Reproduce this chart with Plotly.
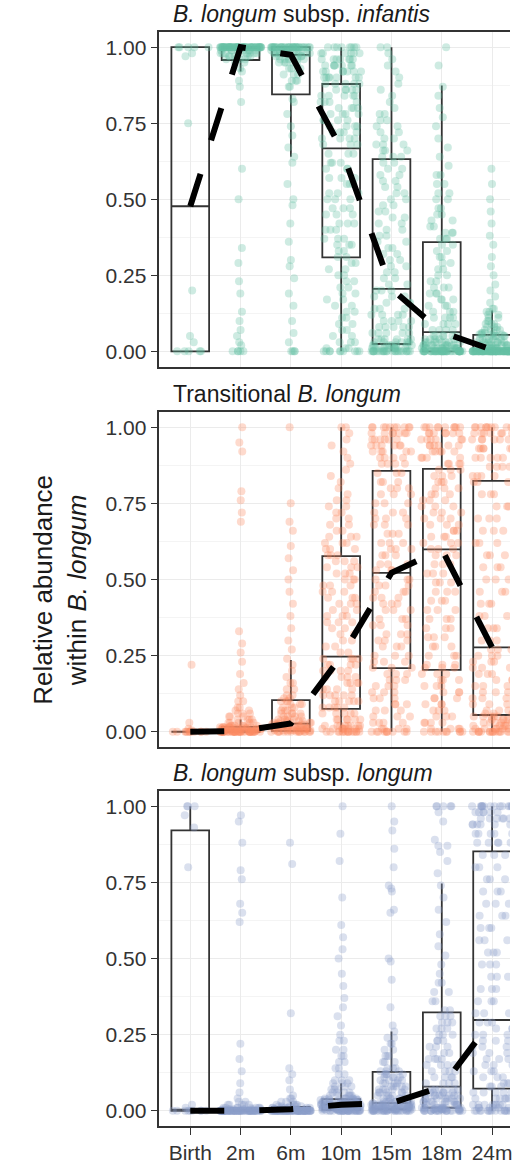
import plotly.graph_objects as go

# Sampling time points (category axis)
timepoints = ["Birth", "2m", "6m", "10m", "15m", "18m", "24m"]

# ---- Per-sample relative abundances, written as (value, number of samples) ----
infantis_birth = [(0.0, 5), (0.03, 1), (0.05, 1), (0.2, 1), (0.75, 1), (0.97, 1), (0.98, 1), (1.0, 5)]
infantis_2m = [(0.0, 5), (0.02, 1), (0.03, 1), (0.05, 1), (0.07, 1), (0.1, 1), (0.13, 1), (0.19, 1),
               (0.23, 1), (0.29, 1), (0.34, 1), (0.5, 1), (0.6, 1), (0.82, 1), (0.87, 1), (0.89, 1),
               (0.92, 1), (0.93, 1), (0.95, 2), (0.96, 4), (0.97, 6), (0.98, 8), (0.99, 8), (1.0, 60)]
infantis_6m = [(0.0, 4), (0.03, 1), (0.06, 1), (0.1, 1), (0.15, 1), (0.19, 1), (0.24, 1), (0.28, 1),
               (0.3, 1), (0.36, 1), (0.42, 1), (0.48, 1), (0.5, 1), (0.55, 1), (0.62, 1), (0.64, 1),
               (0.67, 1), (0.71, 1), (0.74, 1), (0.78, 1), (0.82, 1), (0.83, 1), (0.87, 2), (0.89, 3),
               (0.91, 3), (0.93, 4), (0.95, 5), (0.96, 5), (0.97, 6), (0.98, 8), (0.99, 10), (1.0, 35)]
infantis_10m = [(0.0, 10), (0.01, 3), (0.03, 3), (0.05, 2), (0.07, 2), (0.09, 2), (0.11, 2), (0.13, 2),
                (0.15, 2), (0.17, 2), (0.19, 2), (0.21, 2), (0.23, 2), (0.25, 2), (0.27, 2), (0.29, 2),
                (0.31, 2), (0.33, 2), (0.35, 3), (0.37, 3), (0.4, 3), (0.42, 3), (0.45, 3), (0.47, 3),
                (0.5, 3), (0.52, 3), (0.55, 3), (0.57, 3), (0.6, 3), (0.62, 3), (0.65, 3), (0.68, 3),
                (0.7, 4), (0.72, 4), (0.74, 4), (0.76, 4), (0.78, 4), (0.8, 4), (0.82, 4), (0.84, 5),
                (0.86, 5), (0.88, 5), (0.9, 7), (0.92, 7), (0.94, 7), (0.96, 7), (0.98, 6), (1.0, 8)]
infantis_15m = [(0.0, 24), (0.01, 10), (0.02, 8), (0.03, 6), (0.04, 6), (0.06, 5), (0.08, 5), (0.1, 4),
                (0.12, 4), (0.14, 3), (0.16, 3), (0.18, 3), (0.2, 3), (0.22, 2), (0.24, 2), (0.26, 2),
                (0.28, 2), (0.3, 2), (0.32, 2), (0.34, 2), (0.36, 2), (0.38, 2), (0.4, 2), (0.42, 2),
                (0.44, 2), (0.46, 2), (0.48, 2), (0.5, 2), (0.52, 2), (0.54, 2), (0.56, 2), (0.58, 2),
                (0.6, 2), (0.62, 2), (0.64, 3), (0.66, 3), (0.68, 3), (0.7, 2), (0.72, 2), (0.74, 2),
                (0.76, 2), (0.78, 2), (0.8, 1), (0.82, 1), (0.84, 1), (0.86, 1), (0.88, 1), (0.9, 1),
                (0.92, 1), (0.94, 1), (0.96, 1), (0.98, 1), (1.0, 2)]
infantis_18m = [(0.0, 45), (0.01, 15), (0.02, 10), (0.03, 8), (0.04, 6), (0.05, 6), (0.07, 4), (0.09, 4),
                (0.11, 4), (0.13, 3), (0.15, 3), (0.17, 3), (0.19, 3), (0.21, 3), (0.23, 2), (0.25, 2),
                (0.27, 2), (0.29, 2), (0.31, 2), (0.33, 2), (0.35, 2), (0.37, 3), (0.39, 3), (0.41, 2),
                (0.43, 2), (0.45, 2), (0.47, 2), (0.5, 2), (0.52, 2), (0.55, 2), (0.58, 2), (0.61, 1),
                (0.64, 1), (0.67, 1), (0.7, 1), (0.74, 1), (0.77, 1), (0.8, 1), (0.84, 1), (0.87, 1),
                (0.94, 1), (1.0, 1)]
infantis_24m = [(0.0, 85), (0.01, 12), (0.02, 10), (0.03, 8), (0.04, 6), (0.05, 5), (0.055, 4), (0.06, 4),
                (0.07, 4), (0.08, 3), (0.09, 3), (0.1, 2), (0.11, 2), (0.12, 2), (0.13, 2), (0.14, 2),
                (0.16, 1), (0.18, 1), (0.2, 1), (0.22, 1), (0.25, 1), (0.28, 1), (0.31, 1), (0.35, 1),
                (0.38, 1), (0.42, 1), (0.46, 1), (0.5, 1), (0.55, 1), (0.6, 1)]

transitional_birth = [(0.0, 12), (0.005, 1), (0.01, 1), (0.03, 1), (0.22, 1)]
transitional_2m = [(0.0, 40), (0.005, 12), (0.01, 12), (0.015, 10), (0.02, 6), (0.03, 5), (0.04, 4),
                   (0.05, 3), (0.06, 3), (0.07, 2), (0.08, 2), (0.1, 2), (0.12, 1), (0.14, 1), (0.16, 1),
                   (0.19, 1), (0.23, 1), (0.26, 1), (0.29, 1), (0.33, 1), (0.69, 1), (0.72, 1), (0.76, 1),
                   (0.79, 1), (0.92, 1), (0.95, 1), (1.0, 1)]
transitional_6m = [(0.0, 15), (0.005, 8), (0.01, 8), (0.015, 6), (0.02, 6), (0.025, 6), (0.03, 5),
                   (0.035, 4), (0.04, 4), (0.05, 4), (0.06, 4), (0.07, 3), (0.08, 3), (0.09, 3), (0.1, 3),
                   (0.11, 2), (0.12, 2), (0.14, 2), (0.16, 2), (0.18, 1), (0.2, 1), (0.22, 1), (0.24, 1),
                   (0.27, 1), (0.3, 1), (0.34, 1), (0.38, 1), (0.42, 1), (0.46, 1), (0.5, 1), (0.53, 1),
                   (0.57, 1), (0.61, 1), (0.66, 1), (0.69, 1), (0.75, 1), (1.0, 1)]
transitional_10m = [(0.0, 15), (0.01, 8), (0.02, 8), (0.04, 6), (0.06, 5), (0.08, 5), (0.1, 5), (0.12, 5),
                    (0.14, 4), (0.16, 4), (0.18, 4), (0.2, 4), (0.22, 4), (0.24, 4), (0.26, 2), (0.28, 2),
                    (0.3, 2), (0.32, 2), (0.34, 2), (0.36, 3), (0.38, 3), (0.4, 3), (0.42, 3), (0.44, 3),
                    (0.46, 3), (0.48, 3), (0.5, 3), (0.52, 3), (0.54, 3), (0.56, 3), (0.58, 3), (0.6, 3),
                    (0.62, 3), (0.64, 3), (0.66, 2), (0.68, 2), (0.7, 2), (0.72, 2), (0.74, 2), (0.76, 2),
                    (0.78, 1), (0.8, 1), (0.82, 1), (0.84, 1), (0.86, 1), (0.88, 1), (0.9, 1), (0.92, 1),
                    (0.94, 1), (0.96, 1), (0.98, 1), (1.0, 2)]
transitional_15m = [(0.0, 10), (0.01, 4), (0.03, 4), (0.05, 3), (0.07, 3), (0.09, 3), (0.11, 3), (0.13, 3),
                    (0.15, 3), (0.17, 3), (0.19, 3), (0.21, 3), (0.23, 3), (0.25, 3), (0.28, 3), (0.3, 3),
                    (0.32, 3), (0.35, 3), (0.37, 3), (0.4, 3), (0.42, 3), (0.44, 3), (0.46, 3), (0.48, 3),
                    (0.5, 3), (0.53, 3), (0.55, 3), (0.58, 3), (0.6, 3), (0.62, 3), (0.65, 3), (0.68, 3),
                    (0.7, 3), (0.72, 3), (0.75, 3), (0.78, 3), (0.8, 3), (0.82, 3), (0.85, 3), (0.88, 4),
                    (0.9, 4), (0.92, 5), (0.94, 6), (0.96, 6), (0.98, 7), (1.0, 10)]
transitional_18m = [(0.0, 10), (0.01, 4), (0.03, 4), (0.05, 3), (0.07, 3), (0.09, 3), (0.11, 3), (0.13, 3),
                    (0.15, 3), (0.17, 3), (0.19, 3), (0.21, 3), (0.22, 3), (0.25, 3), (0.28, 3), (0.31, 3),
                    (0.34, 3), (0.37, 3), (0.4, 3), (0.43, 3), (0.46, 3), (0.49, 3), (0.52, 3), (0.55, 3),
                    (0.58, 3), (0.6, 3), (0.62, 3), (0.64, 3), (0.66, 3), (0.68, 3), (0.7, 3), (0.72, 3),
                    (0.74, 3), (0.76, 3), (0.78, 3), (0.8, 3), (0.82, 3), (0.84, 3), (0.86, 3), (0.88, 4),
                    (0.9, 4), (0.92, 5), (0.94, 6), (0.96, 6), (0.98, 7), (1.0, 10)]
transitional_24m = [(0.0, 16), (0.01, 6), (0.02, 5), (0.03, 5), (0.04, 5), (0.05, 5), (0.06, 3), (0.07, 3),
                    (0.09, 3), (0.11, 3), (0.13, 3), (0.15, 3), (0.17, 3), (0.19, 3), (0.21, 3), (0.23, 3),
                    (0.25, 3), (0.27, 3), (0.3, 3), (0.34, 3), (0.38, 3), (0.42, 3), (0.46, 3), (0.5, 3),
                    (0.54, 3), (0.58, 3), (0.62, 3), (0.66, 3), (0.7, 3), (0.74, 3), (0.78, 3), (0.82, 3),
                    (0.84, 4), (0.87, 4), (0.9, 5), (0.93, 6), (0.96, 6), (0.98, 7), (1.0, 10)]

longum_birth = [(0.0, 9), (0.01, 1), (0.02, 1), (0.8, 1), (0.93, 1), (0.97, 1), (1.0, 3)]
longum_2m = [(0.0, 70), (0.005, 10), (0.01, 8), (0.02, 5), (0.03, 2), (0.04, 1), (0.06, 1), (0.09, 1),
             (0.13, 1), (0.17, 1), (0.22, 1), (0.62, 1), (0.65, 1), (0.68, 1), (0.76, 1), (0.79, 1),
             (0.88, 1), (0.95, 1), (0.97, 1)]
longum_6m = [(0.0, 70), (0.005, 12), (0.01, 8), (0.015, 5), (0.02, 4), (0.03, 3), (0.04, 2), (0.05, 1),
             (0.07, 1), (0.1, 1), (0.12, 1), (0.14, 1), (0.32, 1), (0.81, 1), (0.88, 1)]
longum_10m = [(0.0, 30), (0.005, 15), (0.01, 15), (0.015, 10), (0.02, 12), (0.025, 10), (0.03, 10),
              (0.035, 8), (0.04, 8), (0.05, 5), (0.06, 4), (0.07, 3), (0.08, 3), (0.09, 3), (0.1, 3),
              (0.12, 2), (0.14, 2), (0.16, 2), (0.18, 2), (0.2, 2), (0.23, 2), (0.25, 1), (0.28, 1),
              (0.31, 1), (0.34, 1), (0.37, 1), (0.41, 1), (0.45, 1), (0.5, 1), (0.53, 1), (0.57, 1),
              (0.61, 1), (0.7, 1), (0.82, 1), (0.91, 1), (1.0, 1)]
longum_15m = [(0.0, 25), (0.005, 18), (0.01, 12), (0.015, 12), (0.02, 10), (0.025, 8), (0.03, 6), (0.04, 6),
              (0.05, 5), (0.06, 5), (0.07, 5), (0.08, 5), (0.09, 4), (0.1, 4), (0.11, 4), (0.12, 4),
              (0.13, 3), (0.14, 3), (0.16, 3), (0.18, 3), (0.2, 2), (0.22, 2), (0.24, 2), (0.26, 1),
              (0.28, 1), (0.34, 1), (0.43, 1), (0.49, 1), (0.5, 1), (0.65, 1), (0.66, 1), (0.72, 1),
              (0.73, 1), (0.74, 1), (0.8, 1), (0.86, 1), (0.92, 1), (0.95, 1), (1.0, 1)]
longum_18m = [(0.0, 20), (0.005, 12), (0.01, 10), (0.02, 8), (0.03, 8), (0.04, 8), (0.05, 7), (0.06, 6),
              (0.07, 6), (0.09, 4), (0.11, 4), (0.13, 4), (0.15, 4), (0.17, 4), (0.19, 3), (0.21, 3),
              (0.23, 3), (0.25, 3), (0.27, 3), (0.29, 3), (0.31, 3), (0.33, 2), (0.36, 2), (0.39, 2),
              (0.42, 2), (0.45, 1), (0.48, 1), (0.51, 1), (0.54, 1), (0.58, 1), (0.62, 1), (0.66, 1),
              (0.7, 1), (0.74, 1), (0.78, 1), (0.82, 1), (0.85, 1), (0.87, 2), (0.89, 1), (0.95, 1),
              (0.98, 1), (1.0, 5)]
longum_24m = [(0.0, 15), (0.01, 6), (0.02, 8), (0.04, 6), (0.06, 5), (0.08, 3), (0.09, 3), (0.11, 3),
              (0.13, 3), (0.15, 3), (0.17, 3), (0.19, 3), (0.21, 3), (0.23, 3), (0.25, 3), (0.27, 3),
              (0.29, 3), (0.32, 3), (0.36, 3), (0.4, 3), (0.44, 3), (0.48, 3), (0.52, 3), (0.56, 3),
              (0.6, 3), (0.64, 3), (0.68, 3), (0.72, 3), (0.76, 3), (0.8, 3), (0.84, 3), (0.88, 5),
              (0.91, 5), (0.94, 6), (0.96, 6), (0.98, 6), (1.0, 14)]

# ---- Box summaries per time point: lower whisker, Q1, median, Q3, upper whisker ----
infantis_lower = [0.0, 0.92, 0.64, 0.0, 0.0, 0.0, 0.0]
infantis_q1 = [0.0, 0.958, 0.845, 0.309, 0.024, 0.0, 0.0]
infantis_median = [0.477, 1.0, 0.975, 0.667, 0.205, 0.063, 0.005]
infantis_q3 = [1.0, 1.0, 1.0, 0.879, 0.632, 0.359, 0.054]
infantis_upper = [1.0, 1.0, 1.0, 1.0, 1.0, 0.874, 0.134]

transitional_lower = [0.0, 0.0, 0.0, 0.0, 0.0, 0.0, 0.0]
transitional_q1 = [0.0, 0.0, 0.003, 0.075, 0.209, 0.203, 0.055]
transitional_median = [0.0, 0.003, 0.027, 0.247, 0.522, 0.599, 0.277]
transitional_q3 = [0.0, 0.016, 0.104, 0.577, 0.857, 0.863, 0.824]
transitional_upper = [0.0, 0.04, 0.236, 1.0, 1.0, 1.0, 1.0]

longum_lower = [0.0, 0.0, 0.0, 0.0, 0.0, 0.0, 0.0]
longum_q1 = [0.0, 0.0, 0.0, 0.003, 0.005, 0.01, 0.073]
longum_median = [0.0, 0.0, 0.005, 0.02, 0.025, 0.079, 0.298]
longum_q3 = [0.921, 0.003, 0.013, 0.038, 0.128, 0.323, 0.852]
longum_upper = [1.0, 0.007, 0.03, 0.09, 0.26, 0.746, 1.0]

y_ticks = [0.0, 0.25, 0.5, 0.75, 1.0]
y_ticktext = ["0.00", "0.25", "0.50", "0.75", "1.00"]

panels = [
    dict(title="<i>B. longum</i> subsp. <i>infantis</i>", color="#66C2A5",
         groups=[infantis_birth, infantis_2m, infantis_6m, infantis_10m,
                 infantis_15m, infantis_18m, infantis_24m],
         lower=infantis_lower, q1=infantis_q1, median=infantis_median,
         q3=infantis_q3, upper=infantis_upper),
    dict(title="Transitional <i>B. longum</i>", color="#FC8D62",
         groups=[transitional_birth, transitional_2m, transitional_6m, transitional_10m,
                 transitional_15m, transitional_18m, transitional_24m],
         lower=transitional_lower, q1=transitional_q1, median=transitional_median,
         q3=transitional_q3, upper=transitional_upper),
    dict(title="<i>B. longum</i> subsp. <i>longum</i>", color="#8DA0CB",
         groups=[longum_birth, longum_2m, longum_6m, longum_10m,
                 longum_15m, longum_18m, longum_24m],
         lower=longum_lower, q1=longum_q1, median=longum_median,
         q3=longum_q3, upper=longum_upper),
]


def expand(pairs):
    values = []
    for value, count in pairs:
        values.extend([value] * count)
    return values


W, H = 512, 1165
FONT = "Liberation Sans, Arial, Helvetica, sans-serif"
INK = "#333333"
GRID = "#EBEBEB"
MINOR_GRID = "#F4F4F4"

# panel extents in pixels (top, bottom)
panel_px = [(32, 366.5), (412, 747), (791, 1126)]
x_left_px = 160
positions = list(range(len(timepoints)))

fig = go.Figure()
layout_axes = {}

for k, (p, (top, bottom)) in enumerate(zip(panels, panel_px), start=1):
    xa = "x" if k == 1 else f"x{k}"
    ya = "y" if k == 1 else f"y{k}"

    # box outlines from the summary statistics
    fig.add_trace(go.Box(
        x=positions, q1=p["q1"], median=p["median"], q3=p["q3"],
        lowerfence=p["lower"], upperfence=p["upper"],
        orientation="v", width=0.75, whiskerwidth=0,
        fillcolor="rgba(0,0,0,0)", line=dict(color=INK, width=1.8),
        boxpoints=False, xaxis=xa, yaxis=ya, hoverinfo="skip", showlegend=False))

    # individual samples, spread sideways according to local density
    xs, ys = [], []
    for i, grp in enumerate(p["groups"]):
        vals = expand(grp)
        xs.extend([i] * len(vals))
        ys.extend(vals)
    fig.add_trace(go.Box(
        x=xs, y=ys, orientation="v", width=0.82, boxpoints="all", jitter=1, pointpos=0,
        fillcolor="rgba(0,0,0,0)", line=dict(color="rgba(0,0,0,0)", width=0),
        marker=dict(color=p["color"], size=8, opacity=0.32),
        xaxis=xa, yaxis=ya, hoverinfo="skip", showlegend=False))

    # dashed trend through the medians
    fig.add_trace(go.Scatter(
        x=positions, y=p["median"], mode="lines",
        line=dict(color="black", width=6, dash="34px,35px"),
        xaxis=xa, yaxis=ya, hoverinfo="skip", showlegend=False))

    y_dom = [1 - bottom / H, 1 - top / H]
    is_bottom = (k == len(panels))
    layout_axes["xaxis" if k == 1 else f"xaxis{k}"] = dict(
        domain=[x_left_px / W, 1], anchor=ya, range=[-0.614, 6.356],
        tickmode="array", tickvals=positions, ticktext=timepoints,
        showticklabels=is_bottom, ticks="outside" if is_bottom else "",
        ticklabeloverflow="allow",
        ticklen=7, tickwidth=1.4, tickcolor=INK,
        tickfont=dict(family=FONT, size=21, color=INK),
        showgrid=True, gridcolor=GRID, gridwidth=1.2, zeroline=False,
        showline=True, mirror=True, linecolor=INK, linewidth=1.6)
    layout_axes["yaxis" if k == 1 else f"yaxis{k}"] = dict(
        domain=y_dom, anchor=xa, range=[-0.05, 1.05],
        tickmode="array", tickvals=y_ticks, ticktext=y_ticktext,
        ticks="outside", ticklen=7, tickwidth=1.4, tickcolor=INK,
        tickfont=dict(family=FONT, size=21, color=INK),
        showgrid=True, gridcolor=GRID, gridwidth=1.2, zeroline=False,
        minor=dict(tickmode="array", tickvals=[0.125, 0.375, 0.625, 0.875],
                   showgrid=True, gridcolor=MINOR_GRID, gridwidth=0.8, ticks=""),
        showline=True, mirror=False, linecolor=INK, linewidth=1.6)

annotations = []
for p, (top, bottom) in zip(panels, panel_px):
    annotations.append(dict(
        text=p["title"], xref="paper", yref="paper",
        x=172 / W, y=1 - top / H, xanchor="left", yanchor="bottom", yshift=3,
        showarrow=False, font=dict(family=FONT, size=23, color="#1A1A1A")))

annotations.append(dict(
    text="Relative abundance<br>within <i>B. longum</i>", xref="paper", yref="paper",
    x=60 / W, y=1 - 590 / H, xanchor="center", yanchor="middle", textangle=-90,
    showarrow=False, font=dict(family=FONT, size=26, color="#1A1A1A")))

fig.update_layout(
    width=W, height=H, margin=dict(l=0, r=0, t=0, b=0),
    paper_bgcolor="white", plot_bgcolor="white",
    boxmode="overlay", showlegend=False,
    annotations=annotations, **layout_axes)

fig.write_html("out.html", config={"displayModeBar": False})
